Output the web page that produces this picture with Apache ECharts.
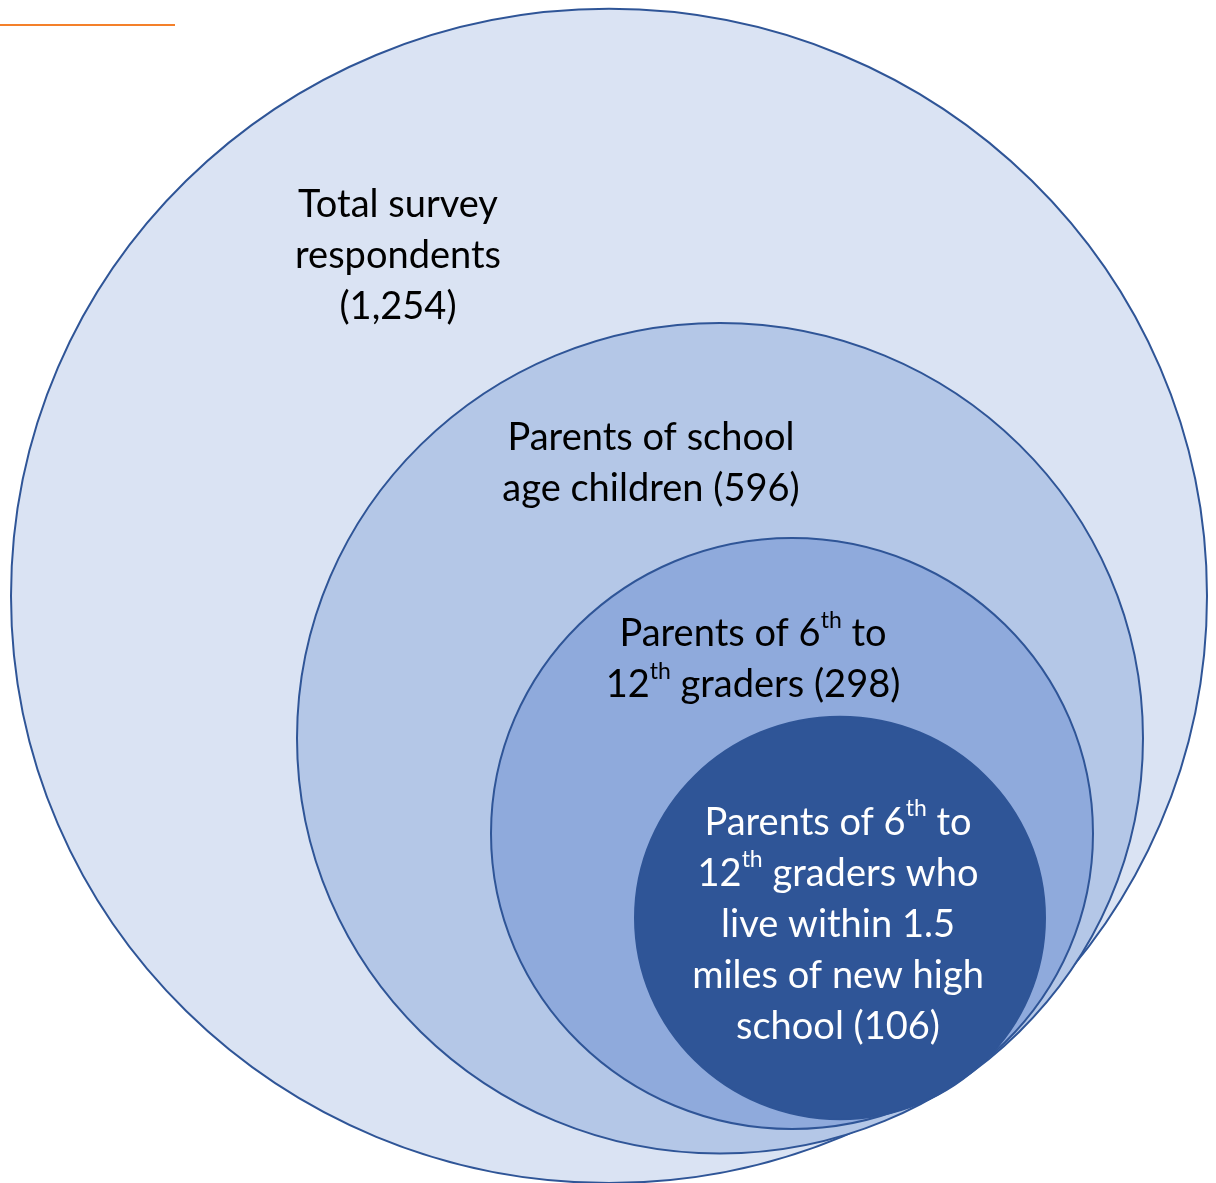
<!DOCTYPE html>
<html>
<head>
<meta charset="utf-8">
<script src="https://cdn.jsdelivr.net/npm/echarts@6/dist/echarts.min.js"></script>
<style>
  html, body { margin: 0; padding: 0; background: #fff; }
  #venn { width: 1216px; height: 1183px; }
</style>
</head>
<body>
<div id="venn"></div>
<script>
// groups, outermost first
var groups = [
  'Total survey\nrespondents\n(1,254)',
  'Parents of school\nage children (596)',
  'Parents of 6{sup|th} to\n12{sup|th} graders (298)',
  'Parents of 6{sup|th} to\n12{sup|th} graders who\nlive within 1.5\nmiles of new high\nschool (106)'
]
var counts = [1254, 596, 298, 106]
// circle geometry in chart units
var centerX = [609, 720, 792, 840]
var centerY = [607, 752, 849, 935]
var radius = [598, 423, 301, 205]
// where each label sits
var labelX = [398, 651, 753, 838]
var labelY = [260, 472, 672, 942]

var fills = ['#DAE3F3', '#B4C7E7', '#8FAADC', '#2F5597']
var textColors = ['#000', '#000', '#000', '#fff']

var chart = echarts.init(document.getElementById('venn'))

var seriesData = groups.map(function (g, i) {
  return [centerX[i], centerY[i], radius[i], labelX[i], labelY[i], counts[i]]
})

chart.setOption({
  animation: false,
  grid: { left: 0, right: 0, top: 0, bottom: 0 },
  xAxis: { type: 'value', min: 0, max: 1216, show: false },
  yAxis: { type: 'value', min: 0, max: 1205, inverse: true, show: false },
  graphic: [
    {
      type: 'line',
      shape: { x1: 0, y1: 25, x2: 175, y2: 25 },
      style: { stroke: '#F4802A', lineWidth: 2 }
    }
  ],
  series: [
    {
      type: 'custom',
      coordinateSystem: 'cartesian2d',
      data: seriesData,
      renderItem: function (params, api) {
        var i = params.dataIndex
        var c = api.coord([api.value(0), api.value(1)])
        var s = api.size([api.value(2), api.value(2)])
        var p = api.coord([api.value(3), api.value(4)])
        return {
          type: 'group',
          children: [
            {
              type: 'ellipse',
              z2: i * 2,
              shape: { cx: c[0], cy: c[1], rx: s[0], ry: s[1] },
              style: { fill: fills[i], stroke: '#2F5597', lineWidth: 2 }
            },
            {
              type: 'text',
              z2: 20,
              style: {
                x: p[0],
                y: p[1],
                text: groups[i],
                fill: textColors[i],
                fontFamily: 'Lato',
                fontSize: 38,
                lineHeight: 51,
                align: 'center',
                verticalAlign: 'middle',
                rich: {
                  sup: {
                    fontFamily: 'Lato',
                    fontSize: 23,
                    lineHeight: 44,
                    verticalAlign: 'top',
                    fill: textColors[i]
                  }
                }
              }
            }
          ]
        }
      }
    }
  ]
})
</script>
</body>
</html>
